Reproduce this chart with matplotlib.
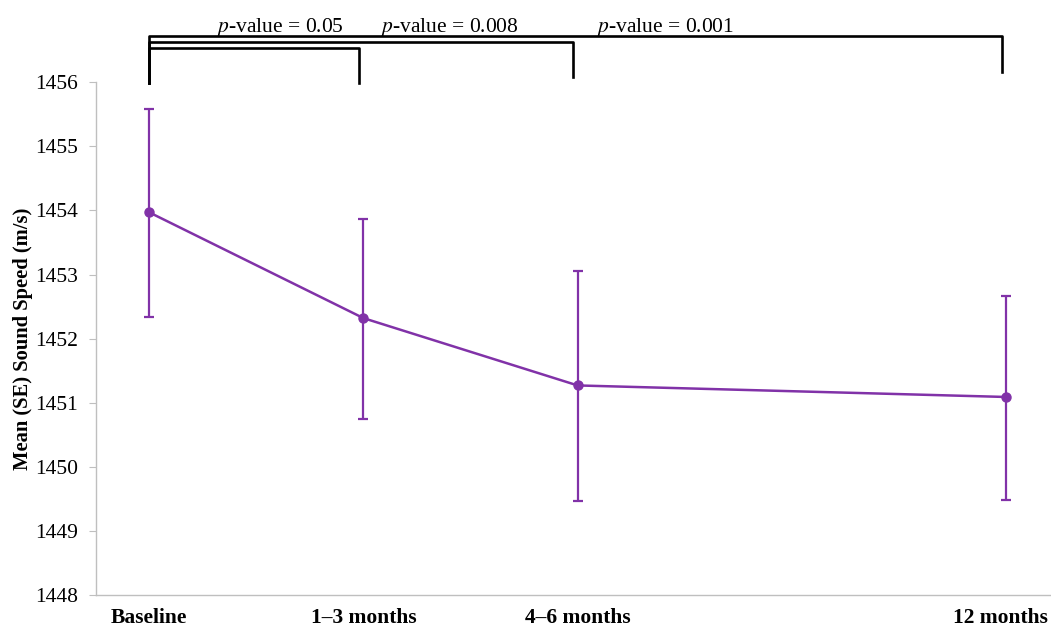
import numpy as np
import matplotlib
matplotlib.use("Agg")
import matplotlib.pyplot as plt
import matplotlib.transforms as mtransforms

# ------------------------------------------------------------
# Data
# ------------------------------------------------------------
labels = ["Baseline", "1\u20133 months", "4\u20136 months", "12 months"]
positions = [0, 1, 2, 4]
mean_speed = [1453.97, 1452.32, 1451.27, 1451.09]
se_upper = [1455.59, 1453.87, 1453.06, 1452.67]
se_lower = [1452.34, 1450.75, 1449.46, 1449.49]

# comparisons: (target index, p-value text)
comparisons = [(1, "0.05"), (2, "0.008"), (3, "0.001")]

PURPLE = "#8132A8"
GREY = "#BFBFBF"

plt.rcParams["font.family"] = ["Liberation Serif", "DejaVu Serif"]
plt.rcParams["mathtext.fontset"] = "stix"

yerr = np.array([
    np.array(mean_speed) - np.array(se_lower),
    np.array(se_upper) - np.array(mean_speed),
])

fig = plt.figure(figsize=(10.51, 6.28), dpi=100)
ax = fig.add_axes([0.0913, 0.0525, 0.9087, 0.8165])

ax.errorbar(positions, mean_speed, yerr=yerr, color=PURPLE, lw=1.8,
            elinewidth=1.6, capsize=3.5, capthick=1.6,
            marker="o", markersize=6.5)

ax.set_xlim(-0.249, 4.21)
ax.set_ylim(1448, 1456)
ax.set_yticks(np.arange(1448, 1457, 1))
ax.set_xticks(positions)
ax.set_xticklabels(labels, fontsize=15.5, fontweight="bold")
ax.tick_params(axis="x", length=0, pad=9)
ax.tick_params(axis="y", length=5, width=0.8, color=GREY, labelsize=15.5, pad=8)

# keep the last label inside the figure edge
last = ax.get_xticklabels()[-1]
last.set_transform(last.get_transform() +
                   mtransforms.ScaledTranslation(-6 / 100, 0, fig.dpi_scale_trans))

for side in ["top", "right"]:
    ax.spines[side].set_visible(False)
for side in ["left", "bottom"]:
    ax.spines[side].set_color(GREY)
    ax.spines[side].set_linewidth(1.0)

ax.set_ylabel("Mean (SE) Sound Speed (m/s)", fontsize=14.8, fontweight="bold")
ax.yaxis.set_label_coords(-0.066, 0.5)

# ------------------------------------------------------------
# Significance brackets above the plot
# ------------------------------------------------------------
bar_levels = [1456.53, 1456.63, 1456.72]
drop_ends = [1455.99, 1456.08, 1456.16]
text_x = [0.61, 1.40, 2.41]

x0 = positions[0]
for (idx, ptxt), ybar, yend, tx in zip(comparisons, bar_levels, drop_ends, text_x):
    x1 = positions[idx] - 0.02
    ax.plot([x0, x0, x1, x1], [1455.99, ybar, ybar, yend], color="black",
            lw=1.9, clip_on=False, solid_joinstyle="round")
    ax.text(tx, 1456.78, r"$p$-value = " + ptxt, fontsize=15.5,
            ha="center", va="baseline", clip_on=False)

fig.savefig("out.png", dpi=100)
